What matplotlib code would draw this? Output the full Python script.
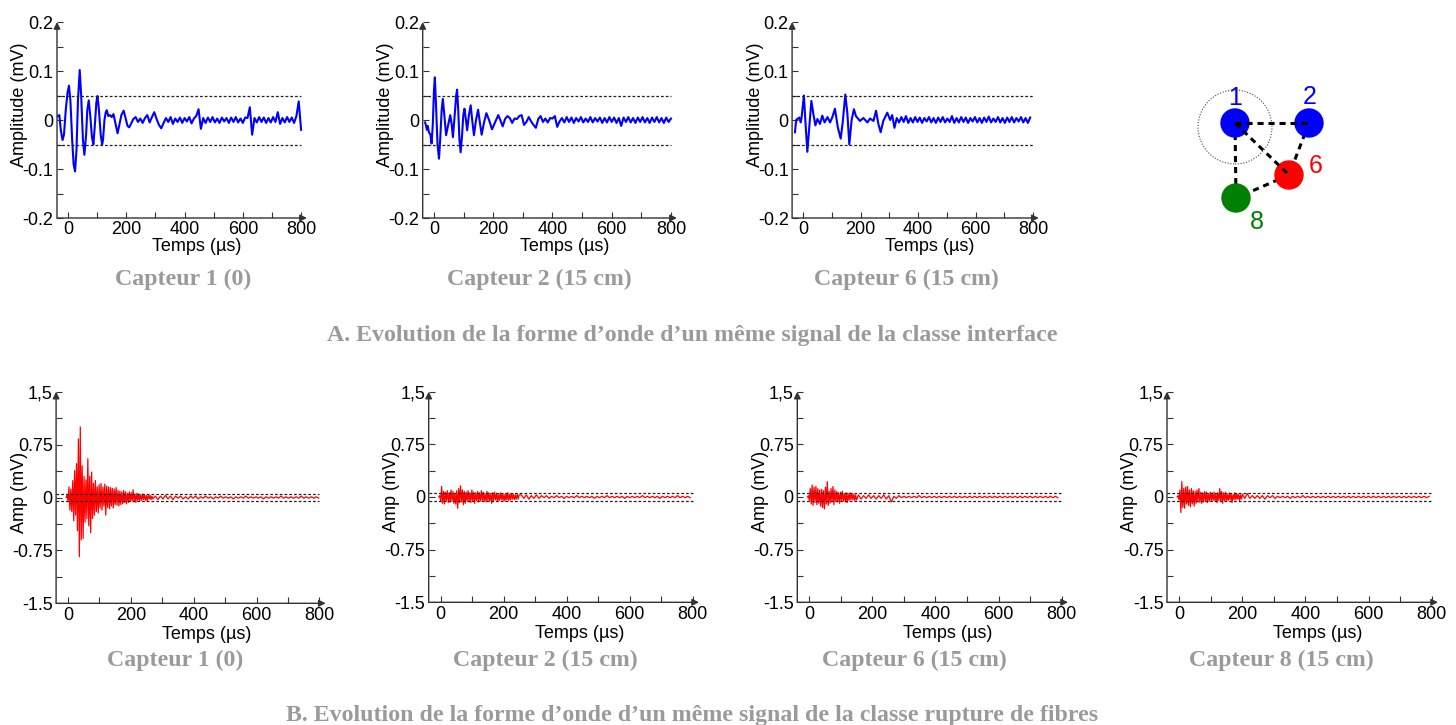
import numpy as np
import matplotlib.pyplot as plt
from matplotlib.patches import Circle

plt.rcParams['font.family'] = ['Liberation Sans', 'DejaVu Sans']

W, H = 1456, 725

# ---------------------------------------------------------------
# A. classe "interface"  (amplitude en mV, temps en µs)
# ---------------------------------------------------------------
# capteur 1 : oscillations principales (instants / valeurs relevés)
a1_t = [-35, -30, -25, -19, -14, -8, -2, 3, 8, 14, 19, 24, 29, 34, 40, 45,
        51, 56, 62, 66, 71, 76, 82, 87, 92, 97, 101, 106, 112, 117, 120, 125,
        129, 133, 138, 144, 150, 156, 162, 170, 176, 183, 191, 197, 204, 210]
a1_v = [0.008, 0.010, -0.020, -0.041, -0.030, 0.020, 0.055, 0.070, 0.040,
        -0.040, -0.090, -0.105, -0.060, 0.040, 0.102, 0.050, -0.040, -0.071,
        -0.030, 0.020, 0.040, 0.010, -0.035, -0.050, -0.010, 0.035, 0.049,
        0.020, -0.030, -0.050, -0.040, 0.000, 0.015, 0.020, 0.008, 0.010,
        0.006, 0.012, -0.005, -0.027, -0.010, 0.010, 0.019, 0.005, -0.012,
        -0.015]
# bruit de fin de signal, un point tous les 8 µs à partir de 216 µs
a1_tail = [-0.008, 0.002, 0.006, -0.004, 0.003, -0.006, 0.004, 0.010, -0.005, 0.006,
           0.016, 0.002, -0.010, -0.017, -0.006, 0.004, -0.004, 0.006, -0.008, 0.003,
           -0.004, 0.005, -0.006, 0.004, -0.003, 0.006, -0.007, 0.003, 0.008, 0.022,
           -0.018, 0.004, -0.006, 0.005, -0.004, 0.006, -0.005, 0.003, -0.006, 0.005,
           -0.003, 0.004, -0.006, 0.005, -0.004, 0.006, -0.005, 0.003, -0.006, 0.005,
           0.004, 0.026, -0.030, 0.004, -0.005, 0.006, -0.004, 0.005, -0.006, 0.004,
           -0.005, 0.006, -0.004, 0.016, -0.008, 0.004, -0.005, 0.006, -0.004, 0.005,
           -0.006, 0.008, 0.038, -0.020]

# capteur 2
a2_t = [-30, -27, -24, -21, -17, -12, -8, -4, 0, 3, 7, 12, 17, 21, 26, 30,
        35, 41, 48, 55, 60, 64, 70, 75, 78, 82, 86, 90, 95, 99, 103, 108,
        112, 118, 124, 129, 135, 142, 149, 155, 161, 169, 177, 186, 196, 206,
        217, 224]
a2_v = [-0.005, -0.011, -0.020, -0.012, -0.025, -0.030, -0.048, -0.010, 0.060,
        0.087, 0.030, -0.050, -0.079, -0.040, 0.020, 0.043, 0.010, -0.031,
        -0.010, 0.010, -0.010, -0.035, 0.010, 0.050, 0.062, 0.020, -0.040,
        -0.066, -0.030, 0.010, 0.023, 0.000, -0.021, 0.010, 0.030, 0.000,
        -0.031, 0.000, 0.021, -0.005, -0.030, -0.005, 0.014, 0.000, -0.019,
        -0.005, 0.010, 0.000]
a2_tail = [-0.013, 0.002, 0.008, 0.004, -0.006, 0.003, 0.002, 0.008, 0.010, -0.010,
           -0.004, 0.006, -0.003, -0.010, -0.016, 0.002, 0.008, -0.004, 0.003, -0.005,
           0.004, 0.003, 0.008, -0.014, -0.003, 0.004, -0.005, 0.006, -0.004, 0.005,
           -0.006, 0.004, -0.003, 0.006, -0.005, 0.003, -0.004, 0.006, -0.005, 0.004,
           -0.003, 0.005, -0.006, 0.004, -0.005, 0.006, -0.004, 0.005, -0.006, 0.004,
           -0.012, 0.005, -0.004, 0.006, -0.005, 0.004, -0.006, 0.005, -0.004, 0.006,
           -0.005, 0.004, -0.006, 0.005, -0.004, 0.006, -0.005, 0.004, -0.006, 0.005,
           -0.004, 0.003]

# capteur 6
a3_t = [-28, -24, -20, -13, -8, -5, 3, 9, 15, 21, 29, 36, 43, 50, 59, 67,
        75, 85, 94, 102, 111, 121, 131, 138, 147, 154, 161, 169, 177, 184,
        198, 210, 224, 233, 245, 254, 262, 270, 279, 293, 303]
a3_v = [-0.025, 0.000, 0.002, 0.005, -0.005, 0.005, 0.050, -0.010, -0.065,
        -0.020, 0.039, 0.012, -0.011, 0.002, -0.008, 0.009, -0.005, 0.006,
        -0.005, 0.006, 0.023, -0.015, -0.038, -0.005, 0.052, 0.015, -0.050,
        0.000, 0.022, 0.008, -0.002, 0.004, -0.005, 0.003, -0.002, 0.019,
        -0.008, -0.025, -0.002, 0.015, 0.000]
a3_tail = [0.010, -0.016, 0.004, -0.005, 0.006, -0.004, 0.008, -0.006, 0.004, -0.005,
           0.006, -0.004, 0.005, -0.006, 0.004, -0.003, 0.006, -0.005, 0.004, -0.006,
           0.005, -0.004, 0.006, -0.005, 0.003, -0.004, 0.008, -0.006, 0.004, -0.005,
           0.006, -0.004, 0.005, -0.006, 0.004, -0.003, 0.006, -0.005, 0.004, -0.006,
           0.005, -0.004, 0.007, -0.005, 0.003, -0.004, 0.006, -0.005, 0.004, -0.006,
           0.005, -0.004, 0.006, -0.005, 0.004, -0.003, 0.006, -0.005, 0.004, -0.006,
           0.005]

# ---------------------------------------------------------------
# B. classe "rupture de fibres" : salve échantillonnée tous les 3 µs
#    à partir de -6 µs, puis fin de signal tous les 8 µs
# ---------------------------------------------------------------
b1_burst = [0.0, 0.03, -0.05, 0.15, -0.18, 0.12, -0.2, 0.24, -0.33, 0.38,
            -0.25, 0.48, -0.47, 0.83, -0.84, 1.0, -0.6, 0.45, -0.58, 0.3,
            -0.35, 0.25, -0.3, 0.55, -0.4, 0.3, -0.5, 0.36, -0.3, 0.2,
            -0.25, 0.24, -0.2, 0.15, -0.22, 0.18, -0.15, 0.2, -0.18, 0.15,
            -0.12, 0.19, -0.25, 0.16, -0.14, 0.15, -0.16, 0.14, -0.12, 0.13,
            -0.15, 0.12, -0.1, 0.14, -0.11, 0.1, -0.12, 0.09, -0.1, 0.08,
            -0.09, 0.1, -0.07, 0.08, -0.09, 0.06, -0.07, 0.08, -0.06, 0.07,
            -0.05, 0.11, -0.06, 0.05, -0.07, 0.06, -0.04, 0.05, -0.05, 0.04,
            -0.04, 0.05, -0.03, 0.04, -0.04, 0.03, -0.05, 0.03, -0.02, 0.03,
            -0.03, 0.02, -0.02]
b1_tail = [0.02, -0.03, 0.02, -0.02, 0.03, -0.02, 0.02, -0.03, 0.02, -0.01,
           0.02, -0.02, 0.01, -0.02, 0.02, -0.01, 0.02, -0.02, 0.01, -0.01,
           0.02, -0.01, 0.01, -0.02, 0.01, -0.01, 0.02, -0.01, 0.01, -0.01,
           0.01, -0.02, 0.01, -0.01, 0.01, -0.01, 0.02, -0.01, 0.01, -0.01,
           0.01, -0.01, 0.01, -0.02, 0.01, -0.01, 0.01, -0.01, 0.01, -0.01,
           0.02, -0.01, 0.01, -0.01, 0.01, -0.01, 0.01, -0.01, 0.02, -0.01,
           0.01, -0.01, 0.01, -0.01, 0.01, -0.01]

b2_burst = [0.0, 0.02, -0.06, 0.15, -0.09, 0.08, -0.1, 0.07, -0.05, 0.09,
            -0.08, 0.06, -0.07, 0.1, -0.06, 0.08, -0.09, 0.05, -0.1, 0.09,
            -0.16, 0.12, -0.08, 0.16, -0.07, 0.1, -0.11, 0.08, -0.09, 0.07,
            -0.06, 0.09, -0.07, 0.06, -0.08, 0.1, -0.06, 0.07, -0.09, 0.06,
            -0.05, 0.08, -0.07, 0.06, -0.06, 0.09, -0.05, 0.07, -0.06, 0.05,
            -0.07, 0.08, -0.05, 0.06, -0.06, 0.05, -0.09, 0.06, -0.05, 0.07,
            -0.04, 0.05, -0.06, 0.04, -0.05, 0.06, -0.04, 0.05, -0.05, 0.04,
            -0.06, 0.05, -0.04, 0.06, -0.05, 0.04, -0.04, 0.05, -0.03, 0.04,
            -0.04, 0.03, -0.03, 0.04, -0.03, 0.03]
b2_tail = [0.03, -0.02, 0.03, -0.03, 0.02, -0.02, 0.03, -0.02, 0.02, -0.01,
           0.02, -0.02, 0.01, -0.01, 0.02, -0.01, 0.01, -0.02, 0.01, -0.01,
           0.01, -0.01, 0.02, -0.01, 0.01, -0.01, 0.01, -0.01, 0.01, -0.02,
           0.01, -0.01, 0.01, -0.01, 0.02, -0.01, 0.01, -0.01, 0.01, -0.01,
           0.01, -0.02, 0.01, -0.01, 0.01, -0.01, 0.01, -0.01, 0.02, -0.01,
           0.01, -0.01, 0.01, -0.01, 0.01, -0.02, 0.01, -0.01, 0.01, -0.01,
           0.01, -0.01, 0.02, -0.01, 0.01, -0.01, 0.01, -0.01]

b3_burst = [0.0, 0.02, -0.05, 0.12, -0.1, 0.17, -0.12, 0.14, -0.08, 0.15,
            -0.11, 0.12, -0.09, 0.1, -0.13, 0.11, -0.15, 0.09, -0.17, 0.14,
            -0.1, 0.22, -0.12, 0.08, -0.09, 0.12, -0.07, 0.15, -0.11, 0.1,
            -0.06, 0.08, -0.07, 0.06, -0.09, 0.07, -0.05, 0.08, -0.06, 0.05,
            -0.07, 0.06, -0.08, 0.05, -0.05, 0.06, -0.04, 0.05, -0.04, 0.04,
            -0.05, 0.03, -0.04]
b3_tail = [0.03, -0.03, 0.02, -0.02, 0.03, -0.02, 0.02, -0.03, 0.02, -0.02,
           0.03, -0.03, 0.02, -0.07, 0.01, -0.02, 0.02, -0.01, 0.01, -0.01,
           0.01, -0.01, 0.01, -0.01, 0.02, -0.01, 0.01, -0.01, 0.01, -0.01,
           0.01, -0.01, 0.01, -0.01, 0.01, -0.01, 0.01, -0.01, 0.01, -0.01,
           0.01, -0.01, 0.01, -0.01, 0.01, -0.01, 0.01, -0.01, 0.01, -0.01,
           0.01, -0.01, 0.01, -0.01, 0.01, -0.01, 0.01, -0.01, 0.01, -0.01,
           0.01, -0.01, 0.01, -0.01, 0.01, -0.01, 0.01, -0.01, 0.01, -0.01,
           0.01, -0.01, 0.01, -0.01, 0.01, -0.01, 0.01, -0.01, 0.01, -0.01]

b4_burst = [0.0, 0.02, -0.04, 0.1, -0.22, 0.22, -0.15, 0.12, -0.16, 0.14,
            -0.1, 0.15, -0.12, 0.1, -0.14, 0.12, -0.1, 0.09, -0.13, 0.08,
            -0.09, 0.1, -0.07, 0.12, -0.08, 0.07, -0.09, 0.06, -0.07, 0.08,
            -0.06, 0.07, -0.08, 0.05, -0.06, 0.07, -0.05, 0.06, -0.05, 0.07,
            -0.06, 0.05, -0.08, 0.06, -0.05, 0.12, -0.06, 0.08, -0.09, 0.06,
            -0.05, 0.07, -0.06, 0.04, -0.05, 0.06, -0.04, 0.05, -0.08, 0.04,
            -0.04, 0.06, -0.04, 0.05, -0.03, 0.04, -0.05, 0.03, -0.03, 0.04]
b4_tail = [-0.02, 0.05, -0.02, 0.02, -0.02, 0.02, -0.02, 0.02, -0.03, 0.02,
           -0.01, 0.02, -0.02, 0.01, -0.01, 0.01, -0.01, 0.01, -0.02, 0.01,
           -0.01, 0.01, -0.01, 0.02, -0.01, 0.01, -0.01, 0.01, -0.01, 0.01,
           -0.01, 0.01, -0.01, 0.01, -0.01, 0.01, -0.01, 0.01, -0.01, 0.01,
           -0.01, 0.01, -0.01, 0.01, -0.01, 0.01, -0.01, 0.01, -0.01, 0.01,
           -0.01, 0.01, -0.01, 0.01, -0.01, 0.01, -0.01, 0.01, -0.01, 0.01,
           -0.01, 0.01, -0.01, 0.01, -0.01, 0.01, -0.01, 0.01, -0.01, 0.01,
           -0.01, 0.01, -0.01, 0.01]

threshold = 0.05   # seuil (mV), lignes pointillées

captions_a = ['Capteur 1 (0)', 'Capteur 2 (15 cm)', 'Capteur 6 (15 cm)']
captions_b = ['Capteur 1 (0)', 'Capteur 2 (15 cm)', 'Capteur 6 (15 cm)', 'Capteur 8 (15 cm)']
title_a = 'A. Evolution de la forme d’onde d’un même signal de la classe interface'
title_b = 'B. Evolution de la forme d’onde d’un même signal de la classe rupture de fibres'

# schéma des capteurs (position relative au capteur 1)
sensor_names = ['1', '2', '6', '8']
sensor_x = [0, 74, 54, 1]
sensor_y = [0, 0, -52, -75]
sensor_colors = ['#0000ff', '#0000ff', '#ff0000', '#008000']
links = [('1', '2'), ('1', '6'), ('1', '8'), ('2', '6'), ('6', '8')]


def knots_and_tail(kt, kv, start, step, tail):
    t = list(kt) + [start + step * i for i in range(len(tail))]
    return t, list(kv) + list(tail)


def burst_and_tail(burst, tail, tail_start, b_start=-6, b_step=3, t_step=8):
    t = [b_start + b_step * i for i in range(len(burst))]
    t += [tail_start + t_step * i for i in range(len(tail))]
    return t, list(burst) + list(tail)


sig_a = [knots_and_tail(a1_t, a1_v, 216, 8, a1_tail),
         knots_and_tail(a2_t, a2_v, 232, 8, a2_tail),
         knots_and_tail(a3_t, a3_v, 310, 8, a3_tail)]
sig_b = [burst_and_tail(b1_burst, b1_tail, 278),
         burst_and_tail(b2_burst, b2_tail, 256),
         burst_and_tail(b3_burst, b3_tail, 156),
         burst_and_tail(b4_burst, b4_tail, 208)]

XLIM = (-38, 820)
AXC = '#333333'
FS = 13

fig = plt.figure(figsize=(W / 100, H / 100), dpi=100)


def waveform_axes(rect, ylim, yticks, ylabels, yminor, ylabel, ylab_y, xlab_off):
    l, t, w, h = rect
    ax = fig.add_axes([l / W, 1 - (t + h) / H, w / W, h / H])
    ax.set_xlim(XLIM)
    ax.set_ylim(ylim)
    ax.patch.set_visible(False)
    for s in ax.spines.values():
        s.set_visible(False)
    arrow = dict(arrowstyle='-|>', color=AXC, lw=1.0, mutation_scale=10,
                 shrinkA=0, shrinkB=0)
    ax.annotate('', xy=(1, 0), xytext=(0, 0), xycoords='axes fraction', arrowprops=arrow)
    ax.annotate('', xy=(0, 1), xytext=(0, 0), xycoords='axes fraction', arrowprops=arrow)
    ax.set_xticks([0, 200, 400, 600, 800])
    ax.set_xticklabels(['0', '200', '400', '600', '800'])
    ax.set_xticks([100, 300, 500, 700], minor=True)
    ax.set_yticks(yticks)
    ax.set_yticklabels(ylabels)
    ax.set_yticks(yminor, minor=True)
    ax.tick_params(which='both', direction='in', length=4, width=0.8, color=AXC,
                   labelsize=FS, pad=2.5)
    ax.set_xlabel('Temps (µs)', fontsize=FS, va='center')
    ax.xaxis.set_label_coords((440 - XLIM[0]) / (XLIM[1] - XLIM[0]), -xlab_off / h)
    ax.set_ylabel(ylabel, fontsize=FS, va='center')
    ax.yaxis.set_label_coords(-37 / w, ylab_y)
    ax.hlines([threshold, -threshold], XLIM[0], 800, colors='#222222',
              linestyles=(0, (2.2, 1.6)), lw=0.9, zorder=3)
    return ax


rects_a = [(57, 22, 249.9, 196), (422.7, 22, 254.2, 196), (792.1, 22, 246.7, 196)]
rects_b = [(56.1, 391.7, 269.6, 211.6), (428.7, 391.7, 270.3, 210.6),
           (797.3, 391.7, 270.7, 210.6), (1167, 391.7, 271, 210.6)]
cap_a_x = [183, 539, 906]
cap_b_x = [175, 545, 914, 1281]

cap_kw = dict(ha='center', va='center', family='Liberation Serif',
              fontweight='bold', color='#9a9a9a', fontsize=17.2)

for rect, (t, v), cap, cx in zip(rects_a, sig_a, captions_a, cap_a_x):
    ax = waveform_axes(rect, (-0.2, 0.2), [-0.2, -0.1, 0, 0.1, 0.2],
                       ['-0.2', '-0.1', '0', '0.1', '0.2'], [-0.15, -0.05, 0.05, 0.15],
                       'Amplitude (mV)', 0.577, 28)
    ax.plot(t, v, color='#0000ff', lw=1.5, zorder=2)
    fig.text(cx / W, 1 - 279 / H, cap, **cap_kw)

for rect, (t, v), cap, cx in zip(rects_b, sig_b, captions_b, cap_b_x):
    ax = waveform_axes(rect, (-1.5, 1.5), [-1.5, -0.75, 0, 0.75, 1.5],
                       ['-1.5', '-0.75', '0', '0.75', '1,5'], [-1.125, -0.375, 0.375, 1.125],
                       'Amp (mV)', 0.526, 31)
    ax.plot(t, v, color='#ff0000', lw=0.9, zorder=2)
    fig.text(cx / W, 1 - 660 / H, cap, **cap_kw)

fig.text(692 / W, 1 - 335 / H, title_a, **cap_kw)
fig.text(692 / W, 1 - 715 / H, title_b, **cap_kw)

# schéma de position des capteurs
dax = fig.add_axes([1180 / W, 1 - 235 / H, 160 / W, 160 / H])
dax.set_xlim(-55, 105)
dax.set_ylim(-112, 48)
dax.axis('off')
pos = {n: (x, y) for n, x, y in zip(sensor_names, sensor_x, sensor_y)}
dax.add_patch(Circle((0, -4), 37, fill=False, ls=(0, (1, 1.5)), lw=0.8, ec='#444444'))
for a, b in links:
    (x0, y0), (x1, y1) = pos[a], pos[b]
    z = 4 if a == '1' and b in ('2', '6') else 1
    dax.plot([x0, x1], [y0, y1], color='black', lw=2.2, ls=(0, (2, 1.6)), zorder=z)
for n, c in zip(sensor_names, sensor_colors):
    dax.add_patch(Circle(pos[n], 14, color=c, zorder=3))
dax.annotate('', xy=(-2, 1), xytext=(6, -4),
             arrowprops=dict(arrowstyle='-|>', color='black', lw=1, mutation_scale=7),
             zorder=5)
label_off = {'1': (0, 25), '2': (1, 26), '6': (27, 9), '8': (21, -24)}
for n, c in zip(sensor_names, sensor_colors):
    dx, dy = label_off[n]
    dax.text(pos[n][0] + dx, pos[n][1] + dy, n, color=c, fontsize=18,
             ha='center', va='center')

fig.savefig('out.png', dpi=100)
